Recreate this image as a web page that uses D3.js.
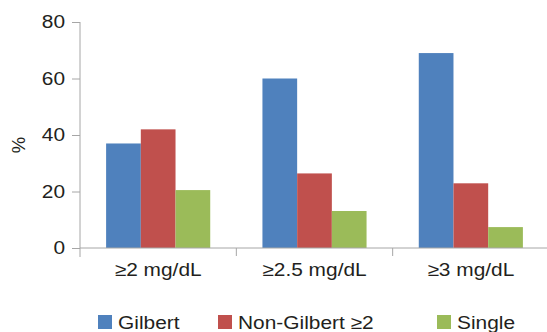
<!DOCTYPE html>
<html>
<head>
<meta charset="utf-8">
<script src="https://cdn.jsdelivr.net/npm/d3@7"></script>
<style>
  body { margin: 0; background: #fff; }
  text { font-family: "Liberation Sans", Arial, sans-serif; fill: #231f20; }
</style>
</head>
<body>
<script>
const categories = ["≥2 mg/dL", "≥2.5 mg/dL", "≥3 mg/dL"];
const series = ["Gilbert", "Non-Gilbert ≥2", "Single"];
const gilbert = [37, 60, 69];
const nonGilbert = [42, 26.4, 22.9];
const single = [20.5, 13.1, 7.4];
const yTicks = [0, 20, 40, 60, 80];
const colors = ["#4f81bd", "#c0504d", "#9bbb59"];

const values = [gilbert, nonGilbert, single];
const width = 547, height = 332;
const plotLeft = 80, plotRight = 549, plotTop = 22, plotBottom = 248;
const fs = 18.5, sx = 1.13; // text is a bit wide in the original

const svg = d3.select("body").append("svg")
    .attr("width", width)
    .attr("height", height);

const x = d3.scaleBand().domain(categories).range([plotLeft, plotRight]);
const xs = d3.scaleBand().domain(series)
    .range([x.bandwidth() * 0.167, x.bandwidth() * 0.833]);
const y = d3.scaleLinear().domain([0, 80]).range([plotBottom, plotTop]);

// bars
categories.forEach((c, i) => {
    const g = svg.append("g").attr("transform", `translate(${x(c)},0)`);
    g.selectAll("rect")
        .data(series)
        .enter()
        .append("rect")
        .attr("x", s => xs(s))
        .attr("width", xs.bandwidth())
        .attr("y", (s, j) => y(values[j][i]))
        .attr("height", (s, j) => plotBottom - y(values[j][i]))
        .attr("fill", (s, j) => colors[j]);
});

// y axis
const yAxis = svg.append("g")
    .attr("transform", `translate(${plotLeft},0)`)
    .call(d3.axisLeft(y).tickValues(yTicks).tickSize(8).tickPadding(7));
yAxis.select(".domain").attr("stroke", "#a6a6a6").attr("d", `M0,${plotTop}V${plotBottom + 9}`);
yAxis.selectAll(".tick line").attr("stroke", "#a6a6a6");
yAxis.selectAll("text")
    .attr("font-size", fs)
    .attr("x", -15 / sx)
    .attr("transform", `scale(${sx},1)`)
    .style("fill", "#231f20")
    .style("font-family", '"Liberation Sans", Arial, sans-serif');

// x axis
const xAxis = svg.append("g")
    .attr("transform", `translate(0,${plotBottom})`);
xAxis.append("line")
    .attr("x1", plotLeft).attr("x2", plotRight)
    .attr("stroke", "#a6a6a6");
xAxis.selectAll(".sep")
    .data(categories.slice(1))
    .enter()
    .append("line")
    .attr("x1", d => x(d)).attr("x2", d => x(d))
    .attr("y1", 0).attr("y2", 8)
    .attr("stroke", "#a6a6a6");
xAxis.selectAll(".lbl")
    .data(categories)
    .enter()
    .append("text")
    .attr("transform", d => `translate(${x(d) + x.bandwidth() / 2},28) scale(${sx},1)`)
    .attr("text-anchor", "middle")
    .attr("font-size", fs)
    .text(d => d);

// y label
svg.append("text")
    .attr("transform", "translate(25,145) rotate(-90)")
    .attr("text-anchor", "middle")
    .attr("font-size", fs)
    .text("%");

// legend
const legendX = [98, 218, 437];
const legend = svg.selectAll(".legend")
    .data(series)
    .enter()
    .append("g")
    .attr("transform", (d, i) => `translate(${legendX[i]},315)`);
legend.append("rect")
    .attr("width", 14).attr("height", 14)
    .attr("fill", (d, i) => colors[i]);
legend.append("text")
    .attr("transform", `translate(20,14) scale(${sx},1)`)
    .attr("font-size", fs)
    .text(d => d);
</script>
</body>
</html>
